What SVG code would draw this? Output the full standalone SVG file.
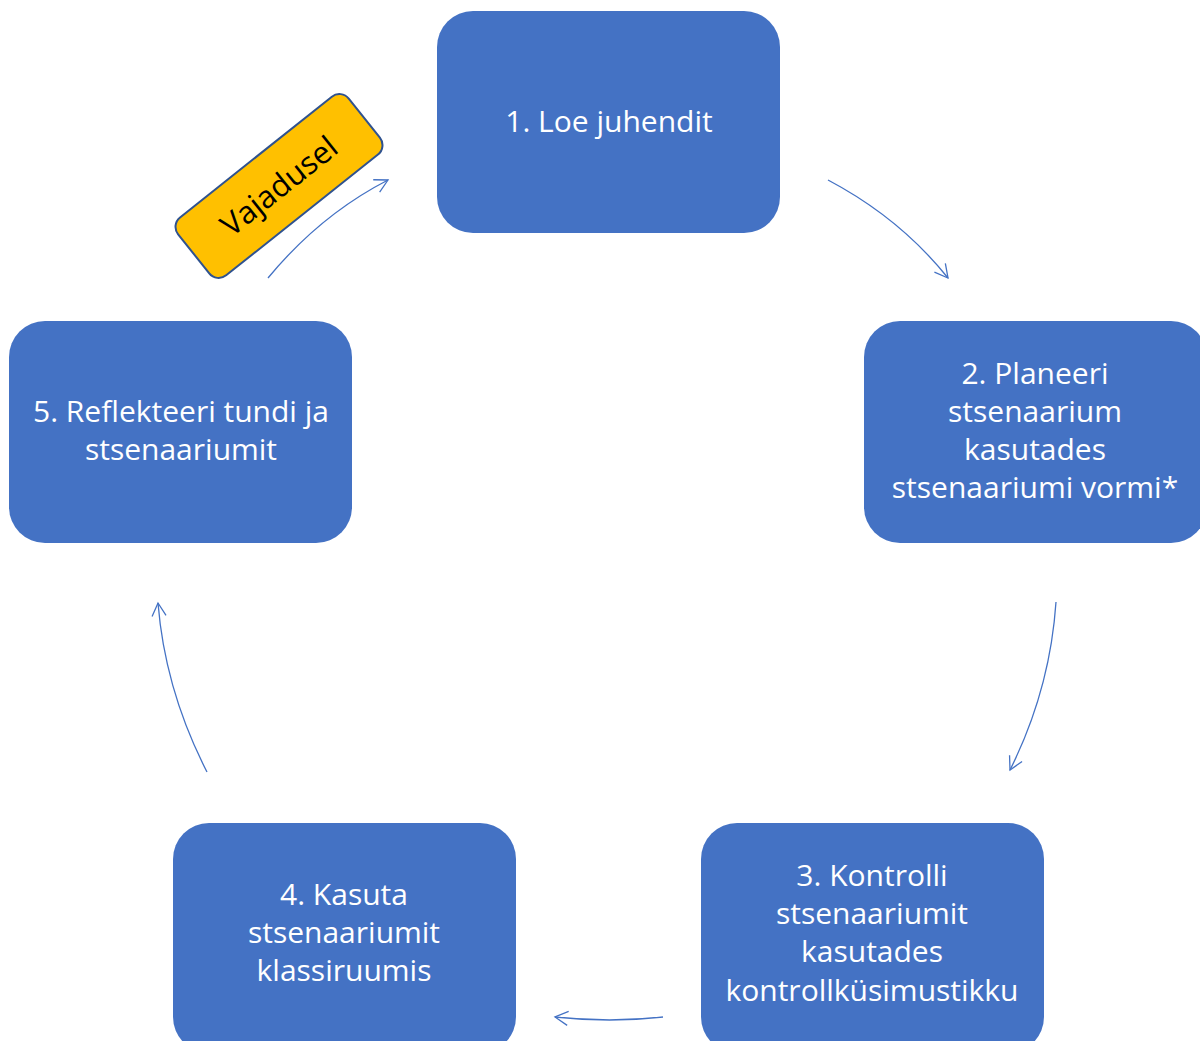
<svg xmlns="http://www.w3.org/2000/svg" width="1200" height="1041" viewBox="0 0 1200 1041">
<style>
.box{fill:#4472C4;}
.t{font-family:"Open Sans","Liberation Sans",sans-serif;font-size:30px;fill:#fff;text-anchor:middle;}
.c{fill:none;stroke:#4472C4;stroke-width:1.3;}
</style>
<defs>
<marker id="ah" markerWidth="20" markerHeight="20" refX="14" refY="8" orient="auto" markerUnits="userSpaceOnUse">
<path d="M1,1 L14,8 L1,15" fill="none" stroke="#4472C4" stroke-width="1.3"/>
</marker>
</defs>
<rect width="1200" height="1041" fill="#fff"/>
<g id="node1"><rect class="box" x="437" y="11" width="343" height="222" rx="36"/>
<text class="t" x="609" y="132">1. Loe juhendit</text></g>
<g id="node2"><rect class="box" x="864" y="321" width="343" height="222" rx="36"/>
<text class="t" x="1035" y="384">2. Planeeri</text>
<text class="t" x="1035" y="422">stsenaarium</text>
<text class="t" x="1035" y="460">kasutades</text>
<text class="t" x="1035" y="498">stsenaariumi vormi*</text></g>
<g id="node3"><rect class="box" x="701" y="823" width="343" height="230" rx="36"/>
<text class="t" x="872" y="886">3. Kontrolli</text>
<text class="t" x="872" y="924">stsenaariumit</text>
<text class="t" x="872" y="962">kasutades</text>
<text class="t" x="872" y="1001">kontrollküsimustikku</text></g>
<g id="node4"><rect class="box" x="173" y="823" width="343" height="230" rx="36"/>
<text class="t" x="344" y="905">4. Kasuta</text>
<text class="t" x="344" y="943">stsenaariumit</text>
<text class="t" x="344" y="981">klassiruumis</text></g>
<g id="node5"><rect class="box" x="9" y="321" width="343" height="222" rx="36"/>
<text class="t" x="181" y="422">5. Reflekteeri tundi ja</text>
<text class="t" x="181" y="460">stsenaariumit</text></g>
<g id="label-vajadusel" transform="translate(279,186) rotate(-38.5)">
<rect x="-109" y="-37" width="218" height="74" rx="12" fill="#FFC000" stroke="#2F528F" stroke-width="2"/>
<text x="0" y="11" font-family="'Open Sans','Liberation Sans',sans-serif" font-size="31" fill="#000" text-anchor="middle">Vajadusel</text>
</g>
<g id="connectors">
<path class="c" d="M828,180 Q900,218 948,278" marker-end="url(#ah)"/>
<path class="c" d="M1056,602 Q1050,690 1010,770" marker-end="url(#ah)"/>
<path class="c" d="M663,1017 Q610,1023 555,1017" marker-end="url(#ah)"/>
<path class="c" d="M207,772 Q165,690 158,603" marker-end="url(#ah)"/>
<path class="c" d="M268,278 Q320,215 388,180" marker-end="url(#ah)"/>
</g>
</svg>
